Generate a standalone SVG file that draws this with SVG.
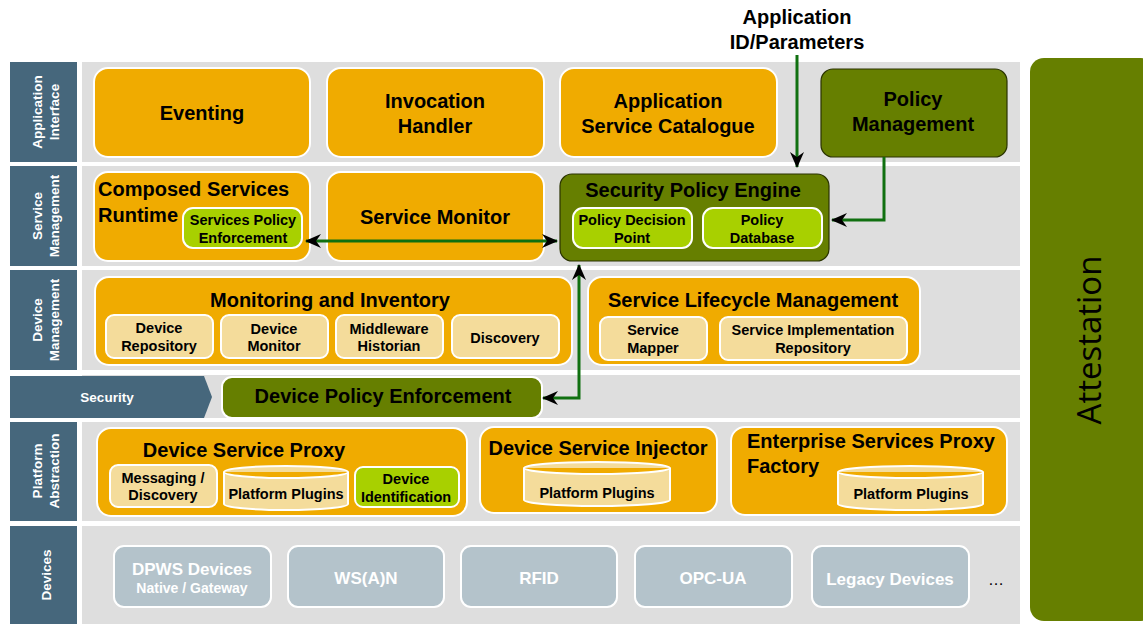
<svg xmlns="http://www.w3.org/2000/svg" width="1143" height="624" viewBox="0 0 1143 624">
<defs>
<marker id="ah" viewBox="0 0 16 14" refX="15" refY="7" markerWidth="16" markerHeight="14" markerUnits="userSpaceOnUse" orient="auto-start-reverse">
<path d="M0,0 L16,7 L0,14 L5,7 z" fill="#000"/>
</marker>
<style>
.band{fill:#dedede}
.lbl{fill:#46677c}
.lt{font-family:"Liberation Sans",Arial,sans-serif;font-weight:bold;font-size:13.5px;fill:#fff;text-anchor:middle}
.or{fill:#f0ab00;stroke:#fff;stroke-width:2}
.dg{fill:#667f00;stroke:#2a3300;stroke-width:1.2}
.dgw{fill:#667f00;stroke:#fff;stroke-width:2}
.lg{fill:#a8d000;stroke:#fff;stroke-width:2}
.tan{fill:#f4dc9b;stroke:#fff;stroke-width:2}
.dev{fill:#b4c3cb;stroke:#fff;stroke-width:2}
.t{font-family:"Liberation Sans",Arial,sans-serif;font-weight:bold;font-size:20px;fill:#000;text-anchor:middle}
.tl{font-family:"Liberation Sans",Arial,sans-serif;font-weight:bold;font-size:20px;fill:#000}
.s{font-family:"Liberation Sans",Arial,sans-serif;font-weight:bold;font-size:14.5px;fill:#000;text-anchor:middle}
.d{font-family:"Liberation Sans",Arial,sans-serif;font-weight:bold;font-size:17px;fill:#fff;text-anchor:middle}
.ds{font-family:"Liberation Sans",Arial,sans-serif;font-weight:bold;font-size:14px;fill:#fff;text-anchor:middle}
.con{fill:none;stroke:#107010;stroke-width:3}
</style>
</defs>
<rect width="1143" height="624" fill="#fff"/>

<g id="layers">
<rect class="band" x="82" y="62" width="938" height="100"/>
<rect class="band" x="82" y="166" width="938" height="100"/>
<rect class="band" x="82" y="270" width="938" height="100"/>
<rect class="band" x="82" y="375" width="938" height="43"/>
<rect class="band" x="82" y="422" width="938" height="99"/>
<rect class="band" x="82" y="526" width="938" height="98"/>
<rect class="lbl" x="10" y="62" width="67" height="100"/>
<rect class="lbl" x="10" y="166" width="67" height="100"/>
<rect class="lbl" x="10" y="270" width="67" height="100"/>
<rect class="lbl" x="10" y="422" width="67" height="99"/>
<rect class="lbl" x="10" y="526" width="67" height="98"/>
<polygon class="lbl" points="10,376 204,376 212,397 204,418 10,418"/>
<g transform="translate(44,112) rotate(-90)"><text class="lt" y="-2">Application</text><text class="lt" y="15">Interface</text></g>
<g transform="translate(44,216) rotate(-90)"><text class="lt" y="-2">Service</text><text class="lt" y="15">Management</text></g>
<g transform="translate(44,320) rotate(-90)"><text class="lt" y="-2">Device</text><text class="lt" y="15">Management</text></g>
<g transform="translate(44,471) rotate(-90)"><text class="lt" y="-2">Platform</text><text class="lt" y="15">Abstraction</text></g>
<g transform="translate(44,575) rotate(-90)"><text class="lt" y="7">Devices</text></g>
<text class="lt" x="107" y="402" font-size="14.5">Security</text>
</g>

<g id="eventing"><rect class="or" x="94" y="68" width="216" height="89" rx="14"/><text class="t" x="202" y="120">Eventing</text></g>
<g id="invocation"><rect class="or" x="327" y="68" width="217" height="89" rx="14"/><text class="t" x="435" y="108">Invocation</text><text class="t" x="435" y="133">Handler</text></g>
<g id="catalogue"><rect class="or" x="560" y="68" width="217" height="89" rx="14"/><text class="t" x="668" y="108">Application</text><text class="t" x="668" y="133">Service Catalogue</text></g>
<g id="policymgmt"><rect class="dg" x="821" y="69" width="186" height="88" rx="12"/><text class="t" x="913" y="106">Policy</text><text class="t" x="913" y="131">Management</text></g>

<g id="composed"><rect class="or" x="94" y="172" width="216" height="89" rx="14"/><text class="tl" x="98" y="196">Composed Services</text><text class="tl" x="98" y="222">Runtime</text>
<rect class="lg" x="183" y="208" width="119" height="40" rx="10"/><text class="s" x="243" y="225">Services Policy</text><text class="s" x="243" y="243">Enforcement</text></g>
<g id="servicemonitor"><rect class="or" x="327" y="172" width="217" height="89" rx="14"/><text class="t" x="435" y="224">Service Monitor</text></g>
<g id="spe"><rect class="dg" x="560" y="174" width="269" height="87" rx="12"/><text class="t" x="693" y="197">Security Policy Engine</text>
<rect class="lg" x="573" y="208" width="119" height="40" rx="10"/><text class="s" x="632" y="225">Policy Decision</text><text class="s" x="632" y="243">Point</text>
<rect class="lg" x="703" y="208" width="119" height="40" rx="10"/><text class="s" x="762" y="225">Policy</text><text class="s" x="762" y="243">Database</text></g>

<g id="monitoring"><rect class="or" x="95" y="277" width="477" height="88" rx="14"/><text class="t" x="330" y="307">Monitoring and Inventory</text>
<rect class="tan" x="106" y="315" width="107" height="43" rx="8"/><text class="s" x="159" y="333">Device</text><text class="s" x="159" y="351">Repository</text>
<rect class="tan" x="221" y="315" width="107" height="43" rx="8"/><text class="s" x="274" y="334">Device</text><text class="s" x="274" y="351">Monitor</text>
<rect class="tan" x="336" y="315" width="107" height="43" rx="8"/><text class="s" x="389" y="334">Middleware</text><text class="s" x="389" y="351">Historian</text>
<rect class="tan" x="452" y="315" width="107" height="43" rx="8"/><text class="s" x="505" y="343">Discovery</text></g>
<g id="lifecycle"><rect class="or" x="588" y="277" width="332" height="88" rx="14"/><text class="t" x="753" y="307">Service Lifecycle Management</text>
<rect class="tan" x="600" y="317" width="107" height="43" rx="8"/><text class="s" x="653" y="335">Service</text><text class="s" x="653" y="353">Mapper</text>
<rect class="tan" x="720" y="317" width="187" height="43" rx="8"/><text class="s" x="813" y="335">Service Implementation</text><text class="s" x="813" y="353">Repository</text></g>

<g id="dpe"><rect class="dgw" x="222" y="377" width="320" height="41" rx="10"/><text class="t" x="383" y="403">Device Policy Enforcement</text></g>

<g id="dsp"><rect class="or" x="97" y="428" width="370" height="88" rx="14"/><text class="t" x="244" y="457">Device Service Proxy</text>
<rect class="tan" x="110" y="465" width="107" height="42" rx="8"/><text class="s" x="163" y="483">Messaging /</text><text class="s" x="163" y="500">Discovery</text>
<path class="tan" d="M224,472 a62,6 0 0 1 124,0 v32 a62,6 0 0 1 -124,0 z M224,472 a62,6 0 0 0 124,0"/><text class="s" x="286" y="499">Platform Plugins</text>
<rect class="lg" x="355" y="467" width="104" height="40" rx="8"/><text class="s" x="406" y="484">Device</text><text class="s" x="406" y="502">Identification</text></g>
<g id="dsi"><rect class="or" x="480" y="427" width="237" height="86" rx="14"/><text class="t" x="598" y="455">Device Service Injector</text>
<path class="tan" d="M524,468 a73,6 0 0 1 146,0 v32 a73,6 0 0 1 -146,0 z M524,468 a73,6 0 0 0 146,0"/><text class="s" x="597" y="498">Platform Plugins</text></g>
<g id="espf"><rect class="or" x="731" y="427" width="276" height="88" rx="14"/><text class="tl" x="747" y="448">Enterprise Services Proxy</text><text class="tl" x="747" y="473">Factory</text>
<path class="tan" d="M838,472 a72.5,6 0 0 1 145,0 v32 a72.5,6 0 0 1 -145,0 z M838,472 a72.5,6 0 0 0 145,0"/><text class="s" x="911" y="499">Platform Plugins</text></g>

<g id="dpws"><rect class="dev" x="114" y="546" width="157" height="61" rx="10"/><text class="d" x="192" y="575">DPWS Devices</text><text class="ds" x="192" y="593">Native / Gateway</text></g>
<g id="wsan"><rect class="dev" x="288" y="546" width="156" height="61" rx="10"/><text class="d" x="366" y="584">WS(A)N</text></g>
<g id="rfid"><rect class="dev" x="461" y="546" width="156" height="61" rx="10"/><text class="d" x="539" y="584">RFID</text></g>
<g id="opcua"><rect class="dev" x="635" y="546" width="157" height="61" rx="10"/><text class="d" x="713" y="584">OPC-UA</text></g>
<g id="legacy"><rect class="dev" x="812" y="546" width="157" height="61" rx="10"/><text class="d" x="890" y="585">Legacy Devices</text></g>
<text x="996" y="585" font-family="Liberation Sans,Arial,sans-serif" font-size="16" fill="#000" text-anchor="middle">…</text>

<g id="attestation"><rect x="1030" y="58" width="125" height="563" rx="14" fill="#667f00"/>
<text transform="translate(1101,340) rotate(-90)" font-family="Open Sans,DejaVu Sans,sans-serif" font-size="33" fill="#000" text-anchor="middle">Attestation</text></g>

<g id="appid"><text class="t" x="797" y="24" font-size="19">Application</text><text class="t" x="797" y="49" font-size="19">ID/Parameters</text></g>

<g id="connectors">
<line class="con" x1="797" y1="55" x2="797" y2="167" marker-end="url(#ah)"/>
<polyline class="con" points="884,157 884,220 832,220" marker-end="url(#ah)"/>
<line class="con" x1="306" y1="241" x2="557" y2="241" marker-start="url(#ah)" marker-end="url(#ah)"/>
<polyline class="con" points="579,265 579,398 543,398" marker-start="url(#ah)" marker-end="url(#ah)"/>
</g>
</svg>
